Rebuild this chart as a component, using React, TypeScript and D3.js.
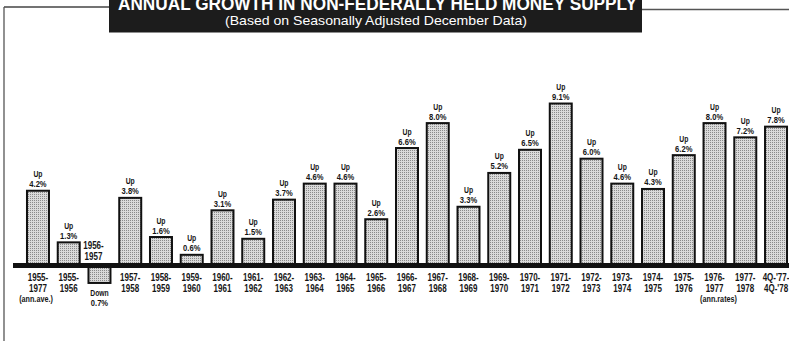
import React from "react";
import * as d3 from "d3";

const line1 = ["1955-", "1955-", "1956-", "1957-", "1958-", "1959-", "1960-", "1961-", "1962-", "1963-", "1964-", "1965-", "1966-", "1967-", "1968-", "1969-", "1970-", "1971-", "1972-", "1973-", "1974-", "1975-", "1976-", "1977-", "4Q-'77-"];
const line2 = ["1977", "1956", "1957", "1958", "1959", "1960", "1961", "1962", "1963", "1964", "1965", "1966", "1967", "1968", "1969", "1970", "1971", "1972", "1973", "1974", "1975", "1976", "1977", "1978", "4Q-'78"];
const notes = ["(ann.ave.)", "", "", "", "", "", "", "", "", "", "", "", "", "", "", "", "", "", "", "", "", "", "(ann.rates)", "", ""];
const growth = [4.2, 1.3, -0.7, 3.8, 1.6, 0.6, 3.1, 1.5, 3.7, 4.6, 4.6, 2.6, 6.6, 8.0, 3.3, 5.2, 6.5, 9.1, 6.0, 4.6, 4.3, 6.2, 8.0, 7.2, 7.8];
const title = "ANNUAL GROWTH IN NON-FEDERALLY HELD MONEY SUPPLY";
const subtitle = "(Based on Seasonally Adjusted December Data)";

const W = 789;
const H = 341;
const FONT = "'Liberation Sans', Arial, sans-serif";

function NText({ x, y, size, children, sx = 0.8 }: { x: number; y: number; size: number; children: React.ReactNode; sx?: number }) {
  return (
    <text transform={`translate(${x},${y}) scale(${sx},1)`} fontFamily={FONT} fontWeight="bold" fontSize={size} fill="#151515" textAnchor="middle">
      {children}
    </text>
  );
}

export default function App() {
  const keys = line1.map((d, i) => `${d}${line2[i]}`);
  const x = d3.scaleBand<string>().domain(keys).range([22.6, 791.4]).paddingInner(0.285).paddingOuter(0.1425);
  const y = d3.scaleLinear().domain([0, 10]).range([265.5, 87.5]);
  const bw = x.bandwidth();

  return (
    <svg width={W} height={H} style={{ position: "absolute", left: 0, top: 0, display: "block", background: "#fff" }}>
      <defs>
        <pattern id="stip" width="2" height="2" patternUnits="userSpaceOnUse">
          <rect width="2" height="2" fill="#dadada" />
          <rect width="1" height="1" fill="#8a8a8a" />
        </pattern>
      </defs>
      {/* frame lines */}
      <line x1={4} y1={7} x2={110} y2={7} stroke="#444" strokeWidth={1.3} />
      <line x1={4} y1={7} x2={4} y2={H} stroke="#555" strokeWidth={1.3} />
      <line x1={641} y1={9.5} x2={W} y2={9.5} stroke="#555" strokeWidth={1.3} />
      {/* title box */}
      <rect x={109} y={0} width={533} height={32.5} fill="#1c1c1c" />
      <text x={377.5} y={9.5} fill="#fff" fontFamily={FONT} fontWeight="bold" fontSize={19}
        textAnchor="middle" textLength={519} lengthAdjust="spacingAndGlyphs">{title}</text>
      <text x={376} y={25} fill="#fff" fontFamily={FONT} fontSize={13}
        textAnchor="middle" textLength={302} lengthAdjust="spacingAndGlyphs">{subtitle}</text>

      {/* bars */}
      {growth.map((v, i) => {
        const k = keys[i];
        const x0 = x(k)!;
        const yTop = v >= 0 ? y(v) : y(0);
        const yBot = v >= 0 ? y(0) : y(v) + 5;
        return (
          <rect key={k} x={x0} y={yTop} width={bw} height={yBot - yTop} fill="url(#stip)" stroke="#111" strokeWidth={2} />
        );
      })}

      {/* baseline */}
      <line x1={13} y1={y(0)} x2={W} y2={y(0)} stroke="#111" strokeWidth={5} />

      {/* value labels */}
      {growth.map((v, i) => {
        const k = keys[i];
        const cx = x(k)! + bw / 2;
        if (v >= 0) {
          return (
            <g key={"v" + k}>
              <NText x={cx} y={y(v) - 13.5} size={8.5}>Up</NText>
              <NText x={cx} y={y(v) - 3.5} size={9.5}>{v.toFixed(1)}%</NText>
            </g>
          );
        }
        return (
          <g key={"v" + k}>
            <NText x={cx} y={y(v) + 18} size={8.5}>Down</NText>
            <NText x={cx} y={y(v) + 28} size={9.5}>{Math.abs(v).toFixed(1)}%</NText>
          </g>
        );
      })}

      {/* category labels */}
      {keys.map((k, i) => {
        const neg = growth[i] < 0;
        const cx = x(k)! + bw / 2 + (neg ? -6 : 0);
        const b1 = neg ? 249 : 281;
        return (
          <g key={"c" + k}>
            <NText x={cx} y={b1} size={10}>{line1[i]}</NText>
            <NText x={cx} y={b1 + 10.5} size={10}>{line2[i]}</NText>
            {notes[i] ? <NText x={cx + (i === 0 ? -2 : 4)} y={b1 + 20.5} size={8.5} sx={0.85}>{notes[i]}</NText> : null}
          </g>
        );
      })}
    </svg>
  );
}
